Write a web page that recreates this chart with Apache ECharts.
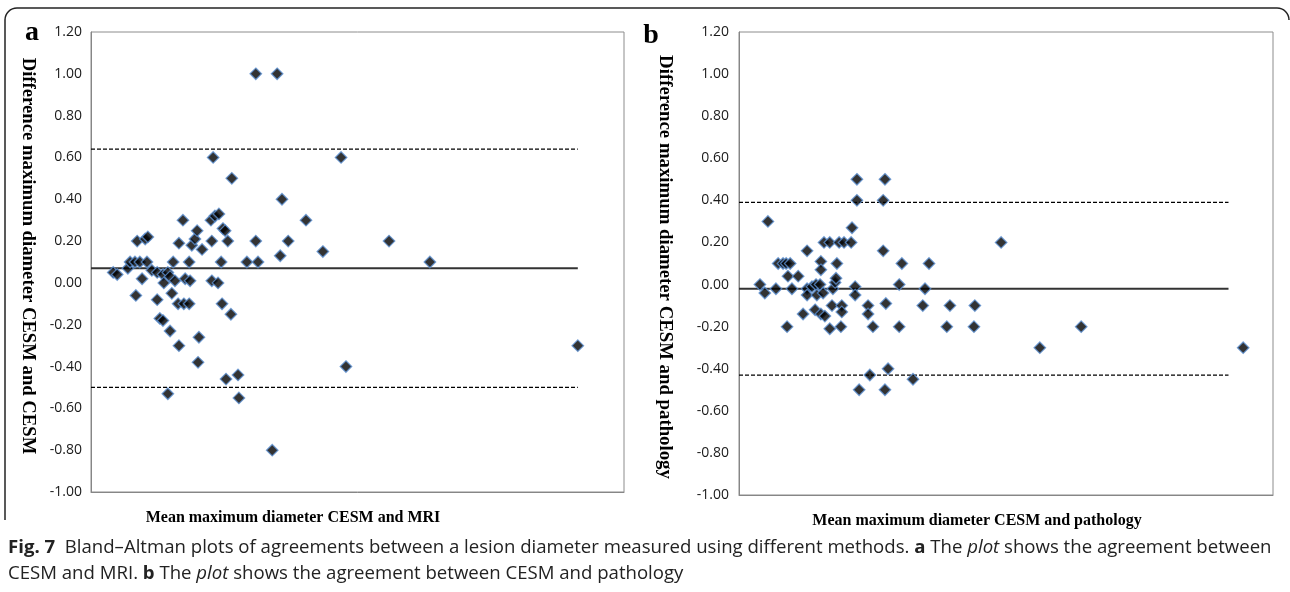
<!DOCTYPE html>
<html><head><meta charset="utf-8">
<script src="https://cdn.jsdelivr.net/npm/echarts@6/dist/echarts.min.js"></script>
<style>html,body{margin:0;padding:0;background:#fff}#c{width:1290px;height:592px}</style>
</head><body><div id="c"></div><script>
// Panel a: CESM vs MRI (x = mean diameter, arbitrary unlabeled scale 0-12)
const aX = [0.50,0.59,0.83,0.88,0.99,1.10,1.26,1.04,1.22,1.28,1.15,1.01,1.37,1.49,1.62,1.73,1.78,1.85,1.64,1.89,1.49,1.82,1.96,2.09,2.21,1.55,1.62,1.78,1.98,1.73,1.98,2.21,2.12,2.23,2.07,2.27,2.34,2.39,2.50,2.43,2.41,2.70,2.79,2.88,2.75,2.72,2.72,2.86,2.93,2.95,2.97,3.02,3.08,3.17,3.15,3.04,3.31,3.33,3.51,3.76,3.71,3.71,4.19,4.08,4.26,4.30,4.44,4.84,5.22,5.63,5.74,6.71,7.63,10.96];
const aY = [0.05,0.04,0.07,0.10,0.10,0.10,0.10,0.20,0.21,0.22,0.02,-0.06,0.06,0.05,0.04,0.05,0.03,0.10,0.00,0.01,-0.08,-0.05,-0.10,-0.10,-0.10,-0.17,-0.18,-0.23,-0.30,-0.53,0.19,0.10,0.02,0.01,0.30,0.18,0.21,0.25,0.16,-0.26,-0.38,0.30,0.32,0.33,0.60,0.20,0.01,0.00,0.10,-0.10,0.26,0.25,0.20,0.50,-0.15,-0.46,-0.44,-0.55,0.10,0.10,0.20,1.00,1.00,-0.80,0.13,0.40,0.20,0.30,0.15,0.60,-0.40,0.20,0.10,-0.30];
const aLimits = {mean: 0.07, upper: 0.64, lower: -0.50, xStart: 0, xEnd: 10.96};

// Panel b: CESM vs pathology
const bX = [0.47,0.58,0.65,0.83,0.88,0.99,1.06,1.15,1.08,1.10,1.19,1.33,1.44,1.53,1.53,1.53,1.64,1.73,1.82,1.75,1.89,1.71,1.84,1.93,1.84,1.84,1.91,2.04,2.04,2.09,2.11,2.16,2.18,2.20,2.25,2.31,2.31,2.29,2.36,2.52,2.54,2.61,2.61,2.65,2.65,2.70,2.90,2.90,2.94,3.01,3.24,3.24,3.28,3.28,3.30,3.35,3.60,3.60,3.66,3.91,4.13,4.18,4.27,4.67,4.74,5.28,5.30,5.89,6.76,7.69,11.33];
const bY = [0.00,-0.04,0.30,-0.02,0.10,0.10,0.10,0.10,-0.20,0.04,-0.02,0.04,-0.14,-0.02,-0.05,0.16,-0.01,0.00,0.00,-0.05,-0.04,-0.12,-0.14,-0.15,0.11,0.07,0.20,0.20,-0.21,-0.10,-0.02,0.01,0.03,0.10,0.20,-0.10,-0.13,-0.20,0.20,0.20,0.27,-0.01,-0.05,0.50,0.40,-0.50,-0.10,-0.14,-0.43,-0.20,0.40,0.16,0.50,-0.50,-0.09,-0.40,0.00,-0.20,0.10,-0.45,-0.10,-0.02,0.10,-0.20,-0.10,-0.20,-0.10,0.20,-0.30,-0.20,-0.30];
const bLimits = {mean: -0.02, upper: 0.39, lower: -0.43, xStart: 0, xEnd: 11.0};

const yRange = {min: -1.0, max: 1.2, interval: 0.2};
const xRange = {min: 0, max: 12};

const titles = {
  aLetter: 'a', bLetter: 'b',
  aY: 'Difference maximum diameter CESM and CESM',
  bY: 'Difference maximum diameter CESM and pathology',
  aX: 'Mean maximum diameter CESM and MRI',
  bX: 'Mean maximum diameter CESM and pathology'
};

const zip = (xs, ys) => xs.map((x, i) => [x, ys[i]]);
const serif = '"Liberation Serif", "DejaVu Serif", serif';
const capFont = '"Open Sans", "Noto Sans", sans-serif';
const capSize = 18.6;

function yAxis(gi, margin) {
  return {
    type: 'value', gridIndex: gi, min: yRange.min, max: yRange.max, interval: yRange.interval,
    axisLine: {show: true, lineStyle: {color: '#868686', width: 1}},
    axisTick: {show: false}, splitLine: {show: false},
    axisLabel: {margin: margin, color: '#1a1a1a', fontSize: 14, fontFamily: '"Open Sans", sans-serif',
      formatter: v => v.toFixed(2)}
  };
}
function xAxis(gi) {
  return {
    type: 'value', gridIndex: gi, min: xRange.min, max: xRange.max,
    axisLine: {show: true, onZero: false, lineStyle: {color: '#868686', width: 1}},
    axisTick: {show: false}, axisLabel: {show: false}, splitLine: {show: false}
  };
}
const sym = {color: '#000', borderColor: '#5b8fd0', borderWidth: 1.3};
function panelSeries(gi, xs, ys, lim) {
  const line = (y, type, w, col) => ({
    type: 'line', xAxisIndex: gi, yAxisIndex: gi, symbol: 'none', silent: true,
    data: [[lim.xStart, y], [lim.xEnd, y]],
    lineStyle: {color: col, width: w, type: type}, z: 2
  });
  return [
    line(lim.mean, 'solid', 2, '#333'),
    line(lim.upper, [4, 2], 1.3, '#000'),
    line(lim.lower, [4, 2], 1.3, '#000'),
    {type: 'scatter', xAxisIndex: gi, yAxisIndex: gi, symbol: 'diamond', symbolSize: 11.5,
      itemStyle: sym, data: zip(xs, ys), z: 3}
  ];
}

const chart = echarts.init(document.getElementById('c'), null, {renderer: 'canvas'});
chart.setOption({
  animation: false,
  backgroundColor: '#fff',
  grid: [
    {left: 91, top: 32, width: 533, height: 460, show: true, borderColor: '#8c8c8c', borderWidth: 1},
    {left: 739, top: 32, width: 534, height: 463, show: true, borderColor: '#8c8c8c', borderWidth: 1}
  ],
  xAxis: [xAxis(0), xAxis(1)],
  yAxis: [yAxis(0, 9), yAxis(1, 10)],
  series: [].concat(panelSeries(0, aX, aY, aLimits), panelSeries(1, bX, bY, bLimits)),
  graphic: [
    {type: 'polyline', shape: {points: [[5, 520], [5, 20]]}, style: {stroke: '#222', lineWidth: 1.5, fill: null}},
    {type: 'arc', shape: {cx: 17, cy: 20, r: 12, startAngle: Math.PI, endAngle: Math.PI * 1.5}, style: {stroke: '#222', lineWidth: 1.5, fill: null}},
    {type: 'polyline', shape: {points: [[17, 8], [1277, 8]]}, style: {stroke: '#222', lineWidth: 1.5, fill: null}},
    {type: 'arc', shape: {cx: 1277, cy: 20, r: 12, startAngle: Math.PI * 1.5, endAngle: Math.PI * 2}, style: {stroke: '#222', lineWidth: 1.5, fill: null}},
    {type: 'text', x: 32, y: 33, style: {text: titles.aLetter, font: 'bold 28px ' + serif, fill: '#000', textAlign: 'center', textVerticalAlign: 'middle'}},
    {type: 'text', x: 651, y: 36, style: {text: titles.bLetter, font: 'bold 28px ' + serif, fill: '#000', textAlign: 'center', textVerticalAlign: 'middle'}},
    {type: 'text', x: 28, y: 256, rotation: -Math.PI / 2, style: {text: titles.aY, font: 'bold 18.7px ' + serif, fill: '#000', textAlign: 'center', textVerticalAlign: 'middle'}},
    {type: 'text', x: 665, y: 267, rotation: -Math.PI / 2, style: {text: titles.bY, font: 'bold 18.8px ' + serif, fill: '#000', textAlign: 'center', textVerticalAlign: 'middle'}},
    {type: 'text', x: 293, y: 518, style: {text: titles.aX, font: 'bold 16px ' + serif, fill: '#000', textAlign: 'center', textVerticalAlign: 'middle'}},
    {type: 'text', x: 977, y: 521, style: {text: titles.bX, font: 'bold 16px ' + serif, fill: '#000', textAlign: 'center', textVerticalAlign: 'middle'}},
    {type: 'text', x: 8, y: 535, style: {
      text: '{b|Fig. 7}  Bland–Altman plots of agreements between a lesion diameter measured using different methods. {b|a} The {i|plot} shows the agreement between\nCESM and MRI. {b|b} The {i|plot} shows the agreement between CESM and pathology',
      font: capSize + 'px ' + capFont, fill: '#222', lineHeight: 26,
      textVerticalAlign: 'top',
      rich: {
        b: {fontWeight: 'bold', fontSize: capSize, fontFamily: capFont, fill: '#222', lineHeight: 26},
        i: {fontStyle: 'italic', fontSize: capSize, fontFamily: capFont, fill: '#222', lineHeight: 26}
      }
    }}
  ]
});
</script></body></html>
